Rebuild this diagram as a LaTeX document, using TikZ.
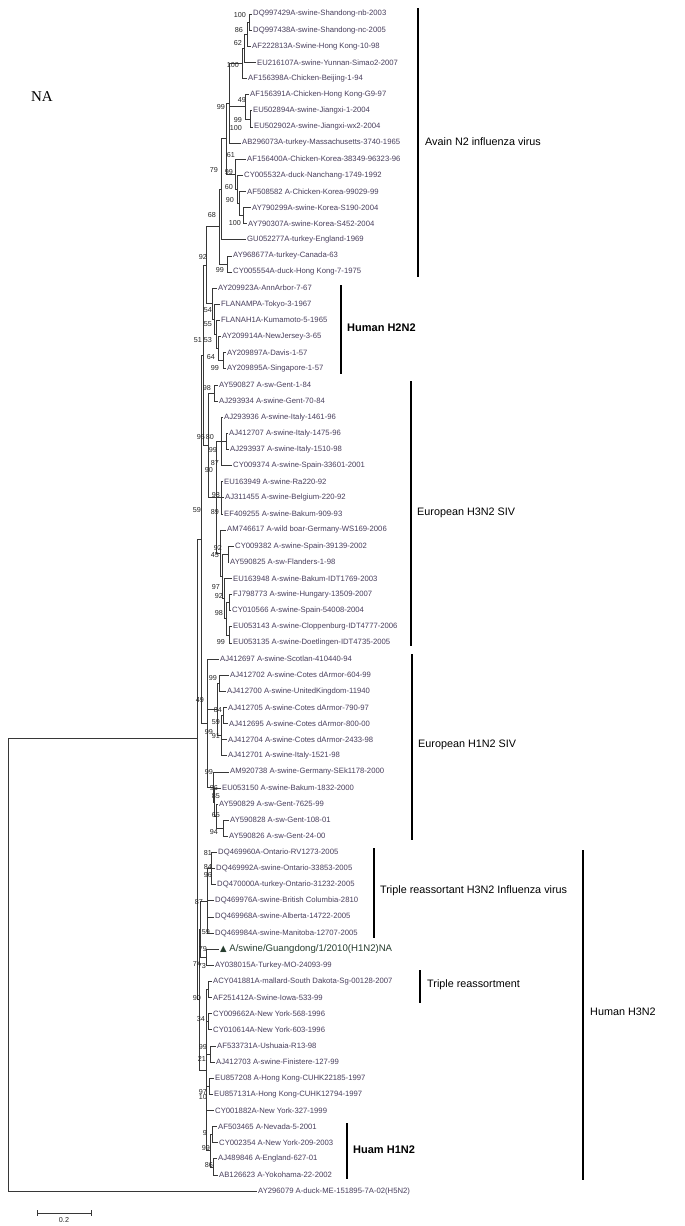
\documentclass[tikz,border=0pt]{standalone}
\usepackage{fontspec}
\setmainfont{Liberation Sans}
\newfontfamily\nafont{Liberation Serif}
\newfontfamily\symfont{DejaVu Sans}
\usepackage{tikz}
\usepackage{xcolor}
\definecolor{leafcol}{RGB}{72,62,92}
\definecolor{treecol}{RGB}{55,55,55}
\definecolor{newcol}{RGB}{40,62,48}

\begin{document}
\begin{tikzpicture}[x=1pt, y=-1pt,
    leaf/.style={anchor=west, inner sep=1.5pt, text=leafcol, font=\fontsize{7.7}{8}\selectfont},
    boot/.style={anchor=east, inner sep=0pt, text=black!85, font=\fontsize{7.2}{7}\selectfont},
    branch/.style={treecol, line width=0.6pt},
    cladebar/.style={line width=1.1pt},
    cladename/.style={anchor=west, inner sep=0pt, font=\fontsize{10.8}{12}\selectfont}]
    \useasboundingbox (0,0) rectangle (685,1226);

    % Title
    \node (natitle) at (42,97) {\fontsize{15}{16}\nafont NA};

    % Avian N2 leaves
    \node[leaf] (l1) at (251.5,14.0) {DQ997429A-swine-Shandong-nb-2003};
    \node[leaf] (l2) at (251.5,30.1) {DQ997438A-swine-Shandong-nc-2005};
    \node[leaf] (l3) at (250.5,46.2) {AF222813A-Swine-Hong Kong-10-98};
    \node[leaf] (l4) at (255.5,62.4) {EU216107A-swine-Yunnan-Simao2-2007};
    \node[leaf] (l5) at (246.5,78.5) {AF156398A-Chicken-Beijing-1-94};
    \node[leaf] (l6) at (248.5,94.6) {AF156391A-Chicken-Hong Kong-G9-97};
    \node[leaf] (l7) at (251.5,110.7) {EU502894A-swine-Jiangxi-1-2004};
    \node[leaf] (l8) at (252.5,126.9) {EU502902A-swine-Jiangxi-wx2-2004};
    \node[leaf] (l9) at (240.5,143.0) {AB296073A-turkey-Massachusetts-3740-1965};
    \node[leaf] (l10) at (245.5,159.1) {AF156400A-Chicken-Korea-38349-96323-96};
    \node[leaf] (l11) at (242.5,175.2) {CY005532A-duck-Nanchang-1749-1992};
    \node[leaf] (l12) at (245.5,191.4) {AF508582 A-Chicken-Korea-99029-99};
    \node[leaf] (l13) at (250.5,207.5) {AY790299A-swine-Korea-S190-2004};
    \node[leaf] (l14) at (246.5,223.6) {AY790307A-swine-Korea-S452-2004};
    \node[leaf] (l15) at (245.5,239.7) {GU052277A-turkey-England-1969};
    \node[leaf] (l16) at (231.5,255.8) {AY968677A-turkey-Canada-63};
    \node[leaf] (l17) at (231.5,272.0) {CY005554A-duck-Hong Kong-7-1975};

    % Human H2N2 leaves
    \node[leaf] (l18) at (216.5,288.1) {AY209923A-AnnArbor-7-67};
    \node[leaf] (l19) at (219.5,304.2) {FLANAMPA-Tokyo-3-1967};
    \node[leaf] (l20) at (219.5,320.3) {FLANAH1A-Kumamoto-5-1965};
    \node[leaf] (l21) at (220.5,336.5) {AY209914A-NewJersey-3-65};
    \node[leaf] (l22) at (225.5,352.6) {AY209897A-Davis-1-57};
    \node[leaf] (l23) at (225.5,368.7) {AY209895A-Singapore-1-57};

    % European H3N2 SIV leaves
    \node[leaf] (l24) at (217.5,384.8) {AY590827 A-sw-Gent-1-84};
    \node[leaf] (l25) at (217.5,401.0) {AJ293934 A-swine-Gent-70-84};
    \node[leaf] (l26) at (222.5,417.1) {AJ293936 A-swine-Italy-1461-96};
    \node[leaf] (l27) at (227.5,433.2) {AJ412707 A-swine-Italy-1475-96};
    \node[leaf] (l28) at (228.5,449.3) {AJ293937 A-swine-Italy-1510-98};
    \node[leaf] (l29) at (231.5,465.4) {CY009374 A-swine-Spain-33601-2001};
    \node[leaf] (l30) at (222.5,481.6) {EU163949 A-swine-Ra220-92};
    \node[leaf] (l31) at (223.5,497.7) {AJ311455 A-swine-Belgium-220-92};
    \node[leaf] (l32) at (222.5,513.8) {EF409255 A-swine-Bakum-909-93};
    \node[leaf] (l33) at (225.5,529.9) {AM746617 A-wild boar-Germany-WS169-2006};
    \node[leaf] (l34) at (233.5,546.1) {CY009382 A-swine-Spain-39139-2002};
    \node[leaf] (l35) at (228.5,562.2) {AY590825 A-sw-Flanders-1-98};
    \node[leaf] (l36) at (231.5,578.3) {EU163948 A-swine-Bakum-IDT1769-2003};
    \node[leaf] (l37) at (231.5,594.4) {FJ798773 A-swine-Hungary-13509-2007};
    \node[leaf] (l38) at (230.5,610.5) {CY010566 A-swine-Spain-54008-2004};
    \node[leaf] (l39) at (231.5,626.7) {EU053143 A-swine-Cloppenburg-IDT4777-2006};
    \node[leaf] (l40) at (231.5,642.8) {EU053135 A-swine-Doetlingen-IDT4735-2005};

    % European H1N2 SIV leaves
    \node[leaf] (l41) at (218.5,658.9) {AJ412697 A-swine-Scotlan-410440-94};
    \node[leaf] (l42) at (228.5,675.0) {AJ412702 A-swine-Cotes dArmor-604-99};
    \node[leaf] (l43) at (225.5,691.2) {AJ412700 A-swine-UnitedKingdom-11940};
    \node[leaf] (l44) at (226.5,707.3) {AJ412705 A-swine-Cotes dArmor-790-97};
    \node[leaf] (l45) at (227.5,723.4) {AJ412695 A-swine-Cotes dArmor-800-00};
    \node[leaf] (l46) at (226.5,739.5) {AJ412704 A-swine-Cotes dArmor-2433-98};
    \node[leaf] (l47) at (226.5,755.6) {AJ412701 A-swine-Italy-1521-98};
    \node[leaf] (l48) at (228.5,771.8) {AM920738 A-swine-Germany-SEk1178-2000};
    \node[leaf] (l49) at (220.5,787.9) {EU053150 A-swine-Bakum-1832-2000};
    \node[leaf] (l50) at (217.5,804.0) {AY590829 A-sw-Gent-7625-99};
    \node[leaf] (l51) at (228.5,820.1) {AY590828 A-sw-Gent-108-01};
    \node[leaf] (l52) at (227.5,836.3) {AY590826 A-sw-Gent-24-00};

    % Triple reassortant and human H3N2 leaves
    \node[leaf] (l53) at (216.5,852.4) {DQ469960A-Ontario-RV1273-2005};
    \node[leaf] (l54) at (214.5,868.5) {DQ469992A-swine-Ontario-33853-2005};
    \node[leaf] (l55) at (215.5,884.6) {DQ470000A-turkey-Ontario-31232-2005};
    \node[leaf] (l56) at (213.5,900.7) {DQ469976A-swine-British Columbia-2810};
    \node[leaf] (l57) at (213.5,916.9) {DQ469968A-swine-Alberta-14722-2005};
    \node[leaf] (l58) at (213.5,933.0) {DQ469984A-swine-Manitoba-12707-2005};
    \node[leaf, text=newcol, font=\fontsize{9.6}{10}\selectfont] (l59) at (218.5,949.1) {{\symfont\fontsize{8.5}{9}\selectfont ▲} A/swine/Guangdong/1/2010(H1N2)NA};
    \node[leaf] (l60) at (213.5,965.2) {AY038015A-Turkey-MO-24093-99};
    \node[leaf] (l61) at (211.5,981.4) {ACY041881A-mallard-South Dakota-Sg-00128-2007};
    \node[leaf] (l62) at (211.5,997.5) {AF251412A-Swine-Iowa-533-99};
    \node[leaf] (l63) at (211.5,1013.6) {CY009662A-New York-568-1996};
    \node[leaf] (l64) at (211.5,1029.7) {CY010614A-New York-603-1996};
    \node[leaf] (l65) at (215.5,1045.8) {AF533731A-Ushuaia-R13-98};
    \node[leaf] (l66) at (214.5,1062.0) {AJ412703 A-swine-Finistere-127-99};
    \node[leaf] (l67) at (213.5,1078.1) {EU857208 A-Hong Kong-CUHK22185-1997};
    \node[leaf] (l68) at (212.5,1094.2) {EU857131A-Hong Kong-CUHK12794-1997};
    \node[leaf] (l69) at (213.5,1110.3) {CY001882A-New York-327-1999};
    \node[leaf] (l70) at (216.5,1126.5) {AF503465 A-Nevada-5-2001};
    \node[leaf] (l71) at (217.5,1142.6) {CY002354 A-New York-209-2003};
    \node[leaf] (l72) at (216.5,1158.7) {AJ489846 A-England-627-01};
    \node[leaf] (l73) at (217.5,1174.8) {AB126623 A-Yokohama-22-2002};

    % Outgroup
    \node[leaf] (l74) at (256.5,1191.0) {AY296079 A-duck-ME-151895-7A-02(H5N2)};

    % Internal nodes, avian part
    \coordinate (a1) at (249,22.1);
    \coordinate (a2) at (247,34.1);
    \coordinate (a3) at (244,48.3);
    \coordinate (a4) at (242,63.4);
    \coordinate (a6) at (250,118.8);
    \coordinate (a5) at (245,106.7);
    \coordinate (a7) at (229,103.2);
    \coordinate (b4) at (243,215.5);
    \coordinate (b3) at (239,203.5);
    \coordinate (b2) at (237,189.3);
    \coordinate (b1) at (235,174.2);
    \coordinate (c0) at (226,138.7);
    \coordinate (c1) at (221,189.2);
    \coordinate (c2) at (227,263.9);
    \coordinate (c3) at (219,226.6);
    \draw[branch] (a1) |- (l1.west) (a1) |- (l2.west);
    \draw[branch] (a2) |- (a1) (a2) |- (l3.west);
    \draw[branch] (a3) |- (a2) (a3) |- (l4.west);
    \draw[branch] (a4) |- (a3) (a4) |- (l5.west);
    \draw[branch] (a6) |- (l7.west) (a6) |- (l8.west);
    \draw[branch] (a5) |- (l6.west) (a5) |- (a6);
    \draw[branch] (a7) |- (a4) (a7) |- (a5) (a7) |- (l9.west);
    \draw[branch] (b4) |- (l13.west) (b4) |- (l14.west);
    \draw[branch] (b3) |- (l12.west) (b3) |- (b4);
    \draw[branch] (b2) |- (l11.west) (b2) |- (b3);
    \draw[branch] (b1) |- (l10.west) (b1) |- (b2);
    \draw[branch] (c0) |- (a7) (c0) |- (b1);
    \draw[branch] (c1) |- (c0) (c1) |- (l15.west);
    \draw[branch] (c2) |- (l16.west) (c2) |- (l17.west);
    \draw[branch] (c3) |- (c1) (c3) |- (c2);

    % Internal nodes, H2N2 part
    \coordinate (h1) at (223,360.6);
    \coordinate (h2) at (218,348.6);
    \coordinate (h3) at (216,334.4);
    \coordinate (h4) at (214,319.3);
    \coordinate (h5) at (212,303.7);
    \coordinate (d1) at (206,265.2);
    \draw[branch] (h1) |- (l22.west) (h1) |- (l23.west);
    \draw[branch] (h2) |- (l21.west) (h2) |- (h1);
    \draw[branch] (h3) |- (l20.west) (h3) |- (h2);
    \draw[branch] (h4) |- (l19.west) (h4) |- (h3);
    \draw[branch] (h5) |- (l18.west) (h5) |- (h4);
    \draw[branch] (d1) |- (c3) (d1) |- (h5);

    % Internal nodes, European H3N2 part
    \coordinate (e1) at (214,392.9);
    \coordinate (e4) at (226,441.3);
    \coordinate (e5) at (221,441.3);
    \coordinate (e6) at (221,497.7);
    \coordinate (e7) at (228,554.2);
    \coordinate (e8) at (229,602.5);
    \coordinate (e9) at (229,634.8);
    \coordinate (e10) at (226,618.6);
    \coordinate (e11) at (224,598.5);
    \coordinate (e12) at (222,576.3);
    \coordinate (e13) at (220,553.1);
    \coordinate (e14) at (216,497.2);
    \coordinate (e15) at (208,445.0);
    \coordinate (g1) at (203,355.1);
    \draw[branch] (e1) |- (l24.west) (e1) |- (l25.west);
    \draw[branch] (e4) |- (l27.west) (e4) |- (l28.west);
    \draw[branch] (e5) |- (l26.west) (e5) |- (e4) (e5) |- (l29.west);
    \draw[branch] (e6) |- (l30.west) (e6) |- (l31.west) (e6) |- (l32.west);
    \draw[branch] (e7) |- (l34.west) (e7) |- (l35.west);
    \draw[branch] (e8) |- (l37.west) (e8) |- (l38.west);
    \draw[branch] (e9) |- (l39.west) (e9) |- (l40.west);
    \draw[branch] (e10) |- (e8) (e10) |- (e9);
    \draw[branch] (e11) |- (l36.west) (e11) |- (e10);
    \draw[branch] (e12) |- (e7) (e12) |- (e11);
    \draw[branch] (e13) |- (l33.west) (e13) |- (e12);
    \draw[branch] (e14) |- (e5) (e14) |- (e6) (e14) |- (e13);
    \draw[branch] (e15) |- (e1) (e15) |- (e14);
    \draw[branch] (g1) |- (d1) (g1) |- (e15);

    % Internal nodes, European H1N2 part
    \coordinate (f1) at (219,683.1);
    \coordinate (f2) at (223,715.3);
    \coordinate (f3) at (221,735.5);
    \coordinate (f4) at (217,709.3);
    \coordinate (f5) at (223,828.2);
    \coordinate (f6) at (216,816.1);
    \coordinate (f7) at (214.5,802.0);
    \coordinate (f8) at (213,786.9);
    \coordinate (f9) at (207,722.9);
    \coordinate (g2) at (201,539.0);
    \draw[branch] (f1) |- (l42.west) (f1) |- (l43.west);
    \draw[branch] (f2) |- (l44.west) (f2) |- (l45.west);
    \draw[branch] (f3) |- (f2) (f3) |- (l46.west) (f3) |- (l47.west);
    \draw[branch] (f4) |- (f1) (f4) |- (f3);
    \draw[branch] (f5) |- (l51.west) (f5) |- (l52.west);
    \draw[branch] (f6) |- (l50.west) (f6) |- (f5);
    \draw[branch] (f7) |- (l49.west) (f7) |- (f6);
    \draw[branch] (f8) |- (l48.west) (f8) |- (f7);
    \draw[branch] (f9) |- (l41.west) (f9) |- (f4) (f9) |- (f8);
    \draw[branch] (g2) |- (g1) (g2) |- (f9);

    % Internal nodes, H3N2 part
    \coordinate (t1) at (211,868.5);
    \coordinate (t2) at (207,900.8);
    \coordinate (k1) at (206,957.2);
    \coordinate (k2) at (200,929.0);
    \coordinate (m1) at (208,989.5);
    \coordinate (m2) at (208,1021.7);
    \coordinate (m3) at (210,1053.9);
    \coordinate (m4) at (209,1086.2);
    \coordinate (m5) at (212,1134.6);
    \coordinate (m6) at (213,1166.8);
    \coordinate (m7) at (210,1150.7);
    \coordinate (m8) at (206,1070.1);
    \coordinate (hh) at (199,999.6);
    \draw[branch] (t1) |- (l53.west) (t1) |- (l54.west) (t1) |- (l55.west);
    \draw[branch] (t2) |- (t1) (t2) |- (l56.west) (t2) |- (l57.west) (t2) |- (l58.west);
    \draw[branch] (k1) |- (l59.west) (k1) |- (l60.west);
    \draw[branch] (k2) |- (t2) (k2) |- (k1);
    \draw[branch] (m1) |- (l61.west) (m1) |- (l62.west);
    \draw[branch] (m2) |- (l63.west) (m2) |- (l64.west);
    \draw[branch] (m3) |- (l65.west) (m3) |- (l66.west);
    \draw[branch] (m4) |- (l67.west) (m4) |- (l68.west);
    \draw[branch] (m5) |- (l70.west) (m5) |- (l71.west);
    \draw[branch] (m6) |- (l72.west) (m6) |- (l73.west);
    \draw[branch] (m7) |- (m5) (m7) |- (m6);
    \draw[branch] (m8) |- (m1) (m8) |- (m2) (m8) |- (m3) (m8) |- (m4) (m8) |- (l69.west) (m8) |- (m7);
    \draw[branch] (hh) |- (k2) (hh) |- (m8);

    % Root
    \coordinate (ing) at (197.5,738.3);
    \coordinate (root) at (8,964.6);
    \draw[branch] (ing) |- (g2) (ing) |- (hh);
    \draw[branch] (root) |- (ing) (root) |- (l74.west);

    % Bootstrap values
    \node[boot] (bs1) at (246,15) {100};
    \node[boot] (bs2) at (243,30) {86};
    \node[boot] (bs3) at (242,43) {62};
    \node[boot] (bs4) at (239,65) {100};
    \node[boot] (bs5) at (246,100) {49};
    \node[boot] (bs6) at (225,107) {99};
    \node[boot] (bs7) at (242,120) {99};
    \node[boot] (bs8) at (242,128) {100};
    \node[boot] (bs9) at (235,155) {61};
    \node[boot] (bs10) at (218,170) {79};
    \node[boot] (bs11) at (233,172) {99};
    \node[boot] (bs12) at (233,187) {60};
    \node[boot] (bs13) at (234,200) {90};
    \node[boot] (bs14) at (216,215) {68};
    \node[boot] (bs15) at (241,223) {100};
    \node[boot] (bs16) at (207,257) {92};
    \node[boot] (bs17) at (224,270) {99};
    \node[boot] (bs18) at (212,310) {54};
    \node[boot] (bs19) at (212,324) {55};
    \node[boot] (bs20) at (202,340) {51};
    \node[boot] (bs21) at (212,340) {53};
    \node[boot] (bs22) at (215,357) {64};
    \node[boot] (bs23) at (219,368) {99};
    \node[boot] (bs24) at (211,388) {98};
    \node[boot] (bs25) at (205,437) {95};
    \node[boot] (bs26) at (214,437) {80};
    \node[boot] (bs27) at (217,450) {99};
    \node[boot] (bs28) at (219,463) {87};
    \node[boot] (bs29) at (213,470) {90};
    \node[boot] (bs30) at (220,495) {98};
    \node[boot] (bs31) at (201,510) {59};
    \node[boot] (bs32) at (219,512) {89};
    \node[boot] (bs33) at (222,548) {92};
    \node[boot] (bs34) at (219,555) {45};
    \node[boot] (bs35) at (220,587) {97};
    \node[boot] (bs36) at (223,596) {92};
    \node[boot] (bs37) at (223,613) {98};
    \node[boot] (bs38) at (225,642) {99};
    \node[boot] (bs39) at (217,678) {99};
    \node[boot] (bs40) at (204,700) {49};
    \node[boot] (bs41) at (222,710) {84};
    \node[boot] (bs42) at (220,722) {59};
    \node[boot] (bs43) at (213,732) {99};
    \node[boot] (bs44) at (220,736) {91};
    \node[boot] (bs45) at (213,772) {99};
    \node[boot] (bs46) at (218,788) {96};
    \node[boot] (bs47) at (220,796) {85};
    \node[boot] (bs48) at (220,815) {65};
    \node[boot] (bs49) at (218,832) {94};
    \node[boot] (bs50) at (212,853) {81};
    \node[boot] (bs51) at (212,867) {84};
    \node[boot] (bs52) at (212,875) {96};
    \node[boot] (bs53) at (203,902) {87};
    \node[boot] (bs54) at (210,932) {59};
    \node[boot] (bs55) at (207,949) {79};
    \node[boot] (bs56) at (201,964) {74};
    \node[boot] (bs57) at (206,966) {73};
    \node[boot] (bs58) at (201,998) {90};
    \node[boot] (bs59) at (205,1019) {34};
    \node[boot] (bs60) at (207,1047) {99};
    \node[boot] (bs61) at (206,1059) {21};
    \node[boot] (bs62) at (207,1092) {97};
    \node[boot] (bs63) at (207,1097) {10};
    \node[boot] (bs64) at (207,1133) {9};
    \node[boot] (bs65) at (210,1148) {99};
    \node[boot] (bs66) at (213,1165) {86};

    % Clade brackets
    \draw[cladebar] (418,8) -- (418,277);
    \node[cladename] (avian) at (425,142) {Avain N2 influenza virus};
    \draw[cladebar] (341,285) -- (341,374);
    \node[cladename, font=\fontsize{11}{12}\selectfont\bfseries] (h2n2) at (347,328) {Human H2N2};
    \draw[cladebar] (411,381) -- (411,646);
    \node[cladename] (euh3n2) at (417,513) {European H3N2 SIV};
    \draw[cladebar] (412,654) -- (412,840);
    \node[cladename] (euh1n2) at (418,745) {European H1N2 SIV};
    \draw[cladebar] (374,848) -- (374,938);
    \node[cladename] (triple) at (380,891) {Triple reassortant H3N2 Influenza virus};
    \draw[cladebar] (420,970) -- (420,1003);
    \node[cladename] (reass) at (427,985) {Triple reassortment};
    \draw[cladebar] (583,850) -- (583,1180);
    \node[cladename] (humh3n2) at (590,1012) {Human H3N2};
    \draw[cladebar] (347,1123) -- (347,1179);
    \node[cladename, font=\fontsize{11}{12}\selectfont\bfseries] (h1n2) at (353,1150) {Huam H1N2};

    % Scale bar
    \draw[branch] (37,1210) -- (37,1216) (37,1213) -- (91,1213) (91,1210) -- (91,1216);
    \node[boot, anchor=center] (scale) at (64,1220) {0.2};
\end{tikzpicture}
\end{document}
